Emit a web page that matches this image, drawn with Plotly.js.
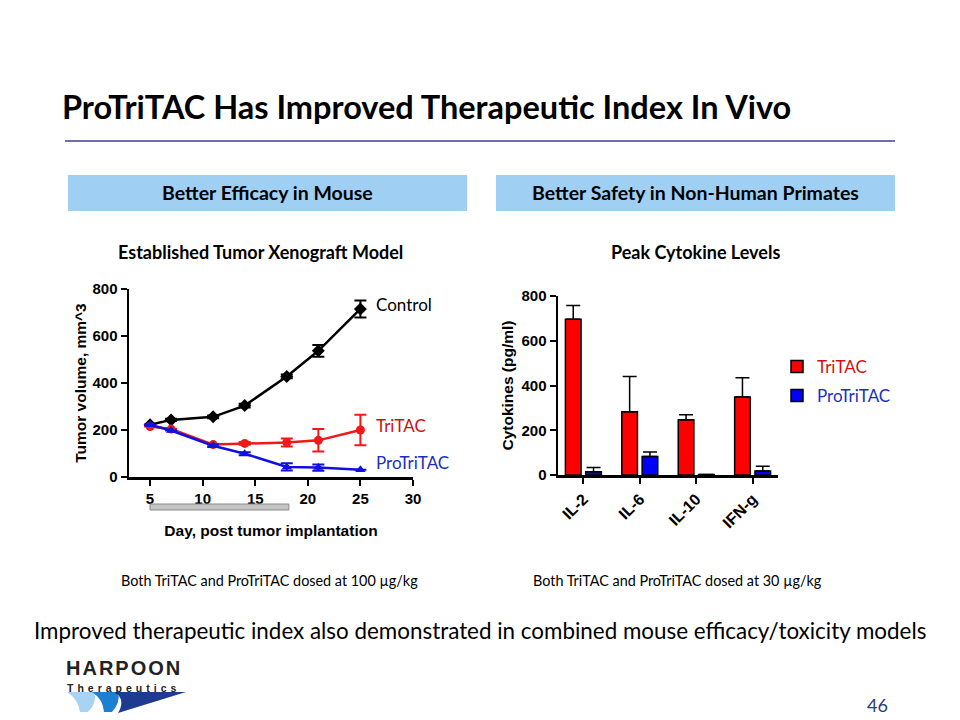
<!DOCTYPE html>
<html>
<head>
<meta charset="utf-8">
<script src="https://cdn.plot.ly/plotly-3.0.1.min.js"></script>
<style>html,body{margin:0;padding:0;background:#fff;}#chart{width:960px;height:720px;}</style>
</head>
<body>
<div id="chart"></div>
<script>
// ---- Data: tumor xenograft model ----
const days = [5, 7, 11, 14, 18, 21, 25];
const controlVol = [222, 243, 256, 304, 428, 537, 715];
const controlErr = [null, 5, 6, 8, 8, 25, 36];
const tritacVol = [215, 204, 138, 143, 147, 156, 200];
const tritacErr = [null, null, null, 6, 17, 48, 65];
const protritacVol = [222, 198, 133, 99, 43, 40, 31];
const protritacErr = [null, null, 5, 6, 15, 13, null];
const dosingWindow = [5, 18.2];

// ---- Data: peak cytokine levels ----
const cytokines = ['IL-2', 'IL-6', 'IL-10', 'IFN-g'];
const tritacCyto = [696, 283, 247, 349];
const tritacCytoErr = [62, 157, 22, 86];
const protritacCyto = [15, 83, 2, 18];
const protritacCytoErr = [19, 20, 0, 21];

const W = 960, H = 720;
const px = x => x / W;
const py = y => 1 - y / H;
const pathPx = pts => pts.map(p => (typeof p === 'string') ? p : (px(p[0]).toFixed(5) + ',' + py(p[1]).toFixed(5))).join(' ');

const AX = 'Liberation Sans, Arial, sans-serif';
const CAL = 'Lato, Open Sans, sans-serif';
const RED = '#ff0000', BLUE = '#0000ff';

const traces = [
  {x: days, y: controlVol, type: 'scatter', mode: 'lines+markers', xaxis: 'x', yaxis: 'y',
   line: {color: '#000', width: 2.5}, marker: {symbol: 'diamond', size: 10, color: '#000'},
   error_y: {type: 'data', array: controlErr, color: '#000', thickness: 2, width: 6}, showlegend: false},
  {x: days, y: tritacVol, type: 'scatter', mode: 'lines+markers', xaxis: 'x', yaxis: 'y',
   line: {color: '#f01818', width: 2.5}, marker: {symbol: 'circle', size: 9, color: '#f01818'},
   error_y: {type: 'data', array: tritacErr, color: '#f01818', thickness: 2, width: 6}, showlegend: false},
  {x: days, y: protritacVol, type: 'scatter', mode: 'lines+markers', xaxis: 'x', yaxis: 'y',
   line: {color: '#1010e0', width: 2.5}, marker: {symbol: 'triangle-up', size: 9, color: '#1010e0'},
   error_y: {type: 'data', array: protritacErr, color: '#1010e0', thickness: 2, width: 6}, showlegend: false},
  {x: cytokines, y: tritacCyto, type: 'bar', name: 'TriTAC', xaxis: 'x2', yaxis: 'y2', legend: 'legend',
   marker: {color: RED, line: {color: '#000', width: 1.5}},
   error_y: {type: 'data', symmetric: false, array: tritacCytoErr, arrayminus: tritacCyto.map(() => 0), color: '#000', thickness: 1.5, width: 7}},
  {x: cytokines, y: protritacCyto, type: 'bar', name: 'ProTriTAC', xaxis: 'x2', yaxis: 'y2', legend: 'legend2',
   marker: {color: BLUE, line: {color: '#000', width: 1.5}},
   error_y: {type: 'data', symmetric: false, array: protritacCytoErr, arrayminus: protritacCyto.map(() => 0), color: '#000', thickness: 1.5, width: 7}}
];

const tickFont = {family: AX, size: 15, color: '#000', weight: 'bold'};
const axTitleFont = {family: AX, size: 15.5, color: '#000', weight: 'bold'};

const layout = {
  width: W, height: H,
  margin: {l: 0, r: 0, t: 0, b: 0},
  paper_bgcolor: '#fff', plot_bgcolor: 'rgba(0,0,0,0)',
  barmode: 'group', bargap: 0.28, bargroupgap: 0.23,
  xaxis: {domain: [px(129), px(413)], range: [3, 30], tickvals: [5, 10, 15, 20, 25, 30],
    showgrid: false, zeroline: false, showline: true, linecolor: '#000', linewidth: 2.5,
    ticks: 'outside', ticklen: 6, tickwidth: 2, tickcolor: '#000', tickfont: tickFont,
    title: {text: 'Day, post tumor implantation', font: axTitleFont, standoff: 20}, anchor: 'y'},
  yaxis: {domain: [py(477), py(289)], range: [0, 800], tickvals: [0, 200, 400, 600, 800],
    showgrid: false, zeroline: false, showline: true, linecolor: '#000', linewidth: 2.5,
    ticks: 'outside', ticklen: 6, tickwidth: 2, tickcolor: '#000', tickfont: tickFont,
    title: {text: 'Tumor volume, mm^3', font: axTitleFont, standoff: 2}, anchor: 'x'},
  xaxis2: {domain: [px(558), px(778)], range: [-0.45, 3.45], type: 'category',
    showgrid: false, zeroline: false, showline: true, linecolor: '#000', linewidth: 2.5,
    ticks: 'outside', ticklen: 6, tickwidth: 2, tickcolor: '#000', tickangle: -45,
    tickfont: {family: AX, size: 16, color: '#000', weight: 'bold'}, anchor: 'y2'},
  yaxis2: {domain: [py(475), py(296)], range: [0, 800], tickvals: [0, 200, 400, 600, 800],
    showgrid: false, zeroline: false, showline: true, linecolor: '#000', linewidth: 2.5,
    ticks: 'outside', ticklen: 6, tickwidth: 2, tickcolor: '#000', tickfont: tickFont,
    title: {text: 'Cytokines (pg/ml)', font: axTitleFont, standoff: 4}, anchor: 'x2'},
  legend: {x: px(777), y: py(367), xanchor: 'left', yanchor: 'middle', itemwidth: 30,
    font: {family: CAL, size: 17, color: '#d01010'}, bgcolor: 'rgba(0,0,0,0)'},
  legend2: {x: px(777), y: py(396), xanchor: 'left', yanchor: 'middle', itemwidth: 30,
    font: {family: CAL, size: 17, color: '#1a2fc0'}, bgcolor: 'rgba(0,0,0,0)'},
  shapes: [
    {type: 'line', xref: 'paper', yref: 'paper', x0: px(65), x1: px(895), y0: py(141), y1: py(141),
     line: {color: '#3d3f99', width: 1.5}},
    {type: 'rect', xref: 'paper', yref: 'paper', x0: px(68), x1: px(467), y0: py(211), y1: py(175),
     fillcolor: '#a0cff4', line: {width: 0}, layer: 'below'},
    {type: 'rect', xref: 'paper', yref: 'paper', x0: px(496), x1: px(895), y0: py(211), y1: py(175),
     fillcolor: '#a0cff4', line: {width: 0}, layer: 'below'},
    {type: 'rect', xref: 'x', yref: 'paper', x0: dosingWindow[0], x1: dosingWindow[1], y0: py(510), y1: py(504),
     fillcolor: '#c4c4c4', line: {color: '#8a8a8a', width: 1}},
    // logo swooshes
    {type: 'path', xref: 'paper', yref: 'paper', fillcolor: '#a9d3f3', line: {width: 0},
     path: 'M ' + pathPx([[67, 692], 'L', [94, 692], 'Q', [98, 702], [88, 712], 'L', [80, 712], 'Q', [78, 699], [67, 692]]) + ' Z'},
    {type: 'path', xref: 'paper', yref: 'paper', fillcolor: '#1d7fd2', line: {width: 0},
     path: 'M ' + pathPx([[92, 692], 'L', [118, 692], 'Q', [121, 702], [112, 712], 'L', [104, 712], 'Q', [103, 699], [92, 692]]) + ' Z'},
    {type: 'path', xref: 'paper', yref: 'paper', fillcolor: '#1f3b91', line: {width: 0},
     path: 'M ' + pathPx([[115, 692], 'L', [186, 692], 'L', [118, 713], 'Q', [126, 700], [115, 692]]) + ' Z'}
  ],
  annotations: [
    {text: '<b>ProTriTAC Has Improved Therapeutic Index In Vivo</b>', xref: 'paper', yref: 'paper',
     x: px(60), y: py(106), xanchor: 'left', yanchor: 'middle', showarrow: false,
     font: {family: CAL, size: 32.5, color: '#000'}},
    {text: '<b>Better Efficacy in Mouse</b>', xref: 'paper', yref: 'paper', x: px(267.5), y: py(193),
     xanchor: 'center', yanchor: 'middle', showarrow: false, font: {family: CAL, size: 19.5, color: '#000'}},
    {text: '<b>Better Safety in Non-Human Primates</b>', xref: 'paper', yref: 'paper', x: px(695.5), y: py(193),
     xanchor: 'center', yanchor: 'middle', showarrow: false, font: {family: CAL, size: 19.5, color: '#000'}},
    {text: '<b>Established Tumor Xenograft Model</b>', xref: 'paper', yref: 'paper', x: px(260), y: py(252),
     xanchor: 'center', yanchor: 'middle', showarrow: false, font: {family: CAL, size: 18, color: '#000'}},
    {text: '<b>Peak Cytokine Levels</b>', xref: 'paper', yref: 'paper', x: px(695), y: py(252),
     xanchor: 'center', yanchor: 'middle', showarrow: false, font: {family: CAL, size: 18, color: '#000'}},
    {text: 'Control', xref: 'x', yref: 'y', x: 26.3, y: 736, xanchor: 'left', yanchor: 'middle', showarrow: false,
     font: {family: CAL, size: 17, color: '#000'}},
    {text: 'TriTAC', xref: 'x', yref: 'y', x: 26.3, y: 221, xanchor: 'left', yanchor: 'middle', showarrow: false,
     font: {family: CAL, size: 17, color: '#d01010'}},
    {text: 'ProTriTAC', xref: 'x', yref: 'y', x: 26.3, y: 60, xanchor: 'left', yanchor: 'middle', showarrow: false,
     font: {family: CAL, size: 17, color: '#1a2fc0'}},
    {text: 'Both TriTAC and ProTriTAC dosed at 100 µg/kg', xref: 'paper', yref: 'paper', x: px(269), y: py(580),
     xanchor: 'center', yanchor: 'middle', showarrow: false, font: {family: CAL, size: 14.4, color: '#000'}},
    {text: 'Both TriTAC and ProTriTAC dosed at 30 µg/kg', xref: 'paper', yref: 'paper', x: px(677), y: py(580),
     xanchor: 'center', yanchor: 'middle', showarrow: false, font: {family: CAL, size: 14.4, color: '#000'}},
    {text: 'Improved therapeutic index also demonstrated in combined mouse efficacy/toxicity models', xref: 'paper', yref: 'paper',
     x: px(480), y: py(630), xanchor: 'center', yanchor: 'middle', showarrow: false, font: {family: CAL, size: 22.4, color: '#000'}},
    {text: '<span style="letter-spacing:2px">HARPOON</span>', xref: 'paper', yref: 'paper', x: px(65), y: py(679.5),
     xanchor: 'left', yanchor: 'bottom', showarrow: false, borderpad: 0,
     font: {family: 'Liberation Sans, Arial, sans-serif', size: 20, color: '#222', weight: 'bold'}},
    {text: '<span style="letter-spacing:4px">Therapeutics</span>', xref: 'paper', yref: 'paper', x: px(66), y: py(680.5),
     xanchor: 'left', yanchor: 'top', showarrow: false, borderpad: 0,
     font: {family: 'Liberation Sans, Arial, sans-serif', size: 10.5, color: '#222', weight: 'bold'}},
    {text: '46', xref: 'paper', yref: 'paper', x: px(877), y: py(705), xanchor: 'center', yanchor: 'middle', showarrow: false,
     font: {family: CAL, size: 18, color: '#2b3b7a'}}
  ]
};

Plotly.newPlot('chart', traces, layout, {displayModeBar: false, staticPlot: true});
</script>
</body>
</html>
